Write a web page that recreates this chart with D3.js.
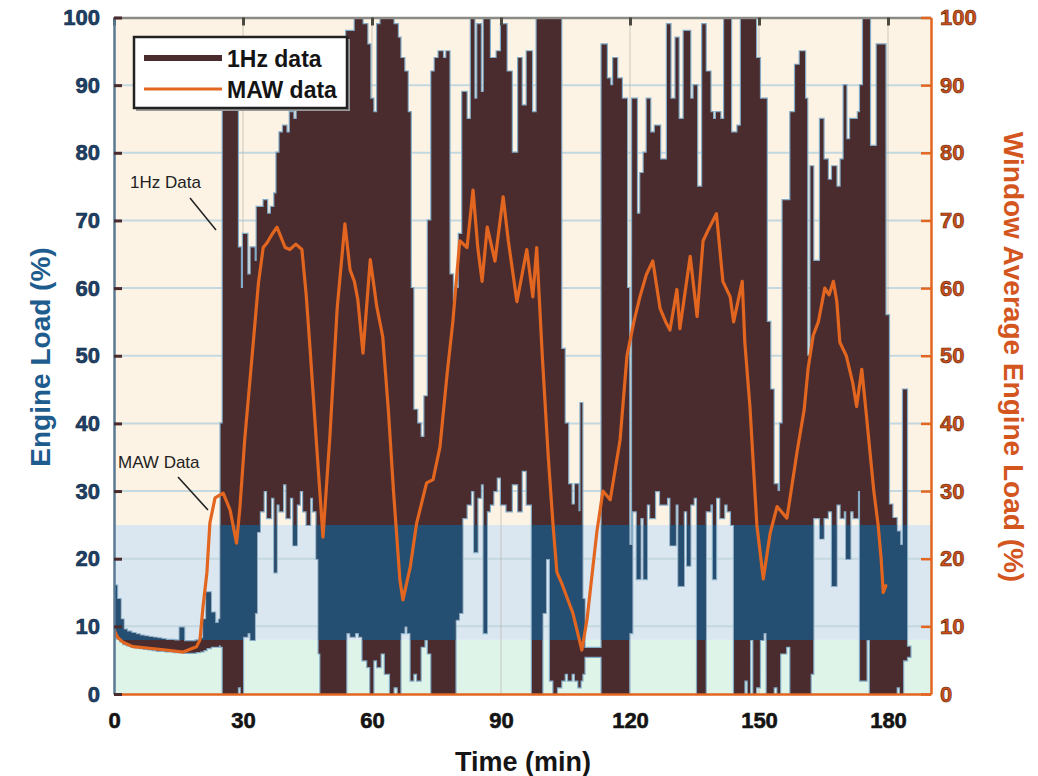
<!DOCTYPE html>
<html>
<head>
<meta charset="utf-8">
<script src="https://cdn.jsdelivr.net/npm/d3@7"></script>
<style>
  html, body { margin: 0; padding: 0; background: #ffffff; }
  svg { display: block; }
  .tick text { font-family: "Liberation Sans", Arial, sans-serif; font-weight: bold; }
</style>
</head>
<body>
<svg id="chart" width="1038" height="776"></svg>
<script>
// ---------------- data ----------------
const xTicks = [0, 30, 60, 90, 120, 150, 180];
const yTicks = [0, 10, 20, 30, 40, 50, 60, 70, 80, 90, 100];

// load bands (%)
const bandEdges = [0, 8, 25, 100];
const bandColors = ["#dff4e8", "#dbe7f0", "#fcf3e4"];

// 1Hz data, read as blocks: start time (min), upper and lower envelope (%)
const hzTime = [0,0.7,1.5,2.2,3,4,5,6,7,8, 9,10,11,12,13,14,15.3,16.3,17.5,19,
  20,20.8,21.5,22.5,23.5,24.4,24.8,25.3,26.5,27.5, 28.8,29.5,30,31,31.8,32.7,33.2,33.9,34.8,35.6,
  36.5,37.3,37.8,38.5,39.3,40.1,40.9,41.7,42.5,43.2, 44,44.8,45.6,46.3,47.1,47.6,48,49,50,51,
  52,53.3,54,55,56,57,57.8,58.9,59.6,60.3, 61.2,62,63,64.2,65,66,66.6,67.5,68.3,69,
  69.6,70.5,71.3,72.2,73,73.8,74.6,75.5,76.5,77.3, 78,78.8,79.4,80.2,81,82,83,83.8,84.5,85.3,
  86,86.7,87.4,88.2,89,90,91.3,92.5,94,94.8, 96,97.2,98.3,99.6,100.4,101.4,102.2,103,104,104.8,
  105.6,106.4,107.2,108,108.5,108.9,109.4,113.4,114.6,115.4, 116.1,117,118.1,119.3,119.8,120.5,121.6,122.4,123.2,123.9,
  124.7,125.8,127,128.6,129.4,130.6,131.3,132.5,133.3,134, 134.8,135.6,136.8,137.6,138.7,139.3,140,141,141.9,142.7,
  143.5,144.2,145,145.8,146.6,147.4,147.9,148.7,149.3,150.2, 151,151.8,152.6,153.4,154.3,154.9,155.5,156.3,157.3,158.4,
  159.5,160.7,161.2,162,162.6,164.2,165,166,167,168, 169,169.7,170.3,171.2,172,173,173.5,174.2,175,175.8,
  176.6,177.4,178.5,179.4,180.2,181,182,182.8,183.5,184.4, 185.2];
const hzHigh = [16,14,11,9.5,9.2,9,8.8,8.6,8.5,8.4, 8.3,8.2,8.1,8,8,7.9,9.8,7.8,7.8,7.9,
  8.2,11,15,12,10.5,11,40,95,96,95, 66,60,68,62,66,64,72,72,73,71,
  72,74,80,83,84,83,86,85,87,88, 87,88,87,89,88,90,89,90,89,91,
  88,97,98,98,100,100,99,96,88,86, 99,100,100,100,99,97,94,92,86,60,
  42,40,38,44,70,92,94,95,94,95, 62,58,60,68,89,85,100,88,99,89,
  100,100,94,94,95,99,92,80,94,87, 95,86,100,100,100,100,100,100,51,40,
  31,28,31,27,43,14,6.8,96,91,90, 94,91,88,60,22,88,71,77,80,88,
  83,84,79,99,88,97,85,98,98,88, 90,75,99,92,86,85,86,85,100,100,
  83,83,84,100,100,100,100,100,94,88, 88,55,45,31,30,40,73,73,86,93,
  95,88,50,78,64,85,79,76,78,75, 79,90,82,85,85,86,90,100,100,81,
  81,96,96,56,28,26,24,22,45,7, 7];
const hzLow = [8.5,8.2,7.8,7.4,7.2,7,6.9,6.8,6.7,6.6, 6.5,6.4,6.4,6.3,6.3,6.2,6.2,6.1,6.1,6.2,
  6.3,6.5,6.8,7,7,7.2,7,0,0,0, 1,0,8.5,9,8,12,24,27,30,26,
  29,18,28,27,31,26,29,22,28,30, 27,25,29,27,20,6,0,0,0,0,
  0,0,9,8.5,9,8.5,5,4,0,5, 4,6,3,0,1,0,9,10,9,2,
  3,2,7,8,6,0,0,0,0,0, 0,0,11,12,26,28,30,21,29,31,
  9,27,28,30,32,28,27,31,27,33, 28,0,0,12,20,2,0,1,2,3,
  2,3,2,1,2,3,5.5,0,0,0, 0,0,0,0,9,27,17,26,17,28,
  26,30,28,29,22,28,16,27,19,28, 29,0,0,27,28,17,29,26,28,27,
  25,0,0,0,2,0,8,0,1,8, 9,0,0,1,0,6,6,7,0,0,
  0,0,0,3,26,23,26,27,16,28, 26,27,20,27,26,30,2,2,8,0,
  0,0,0,0,0,0,1,0,5,5.5, 5.5];

// MAW (moving average window) data
const mawTime = [0,0.8,2.2,4.4,7.7,12.1,16.1,19.2,20,20.7, 21.6,22.3,23.5,25.4,27,28.5,29.3,30.4,32.4,33.6,
  34.7,35.6,36.8,37.9,39.8,40.9,42.3,43.7,44.7,45.6, 47.2,48.6,50.2,51.9,53.7,54.9,55.9,56.7,57.9,59.6,
  60.3,61.1,62.5,63.8,65,66.5,67.2,68.9,70.4,72.7, 74.2,75.8,77.5,78.8,80.4,82.1,83.5,84.6,85.6,86.8,
  88.6,90.5,91.7,93.7,94.9,96,97.4,98.3,99.6,101, 102.1,103,104.1,105.5,106.7,108.8,110,112.3,113.7,115.4,
  117.7,119.3,120.9,122.3,123.8,125.3,127,128.3,129.3,130.9, 131.6,134,135.6,137,138.2,140.1,141.6,143.3,144.1,146.1,
  146.7,147.9,149.5,151,152.6,154.2,156.5,158.9,160.5,161.4, 162.6,163.8,165.3,166.3,167.3,168.1,168.8,170.3,171.8,172.7,
  173.9,174.7,175.7,176.7,177.7,178.4,178.9,179.5];
const mawLoad = [9.5,8.4,7.6,7.0,6.8,6.5,6.2,7.0,8.0,12.9, 17.9,25.3,29,29.7,27.2,22.3,27.7,37.6,52,60.8,
  66,66.7,68,69,66,65.7,66.5,65.7,59,51, 36,23.2,38,57,69.5,62.7,61,58.3,50.4,64.2,
  61,57.3,52.8,42,30,16.8,13.9,18.8,25.3,31.2, 31.7,36.5,47.5,55,67,66,74.5,66,61,69,
  64,73.5,67,58,62,65.7,58.7,66,50,35, 25,18,16.4,14,12,6.5,11,24,30,28.7,
  37.6,50,55,58.7,62,64,57,55,53.8,59.8, 54,64.7,55.8,67,68.6,71,61,58.7,55,61,
  52,42.4,25,17,23.8,27.7,26,36,42,48, 53,55,60,59,61,58,52,50,46,42.5,
  48,43,36.5,30,25,20,15,16];

const legendLabels = ["1Hz data", "MAW data"];

// ---------------- layout ----------------
const L = 114, R = 931, T = 17.5, B = 694;
const svg = d3.select("#chart");
const x = d3.scaleLinear().domain([0, 190]).range([L, R]);
const y = d3.scaleLinear().domain([0, 100]).range([B, T]);

const brown = "#4a2c2e", bandDark = "#244e72", edge = "#84abc6", orange = "#e2661f";

// background bands
svg.append("g").selectAll("rect").data(bandColors).join("rect")
  .attr("x", L).attr("width", R - L)
  .attr("y", (d, i) => y(bandEdges[i + 1]))
  .attr("height", (d, i) => y(bandEdges[i]) - y(bandEdges[i + 1]))
  .attr("fill", d => d);

// horizontal grid
svg.append("g").selectAll("line").data(yTicks.filter(v => v > 0 && v < 100)).join("line")
  .attr("x1", L).attr("x2", R).attr("y1", d => y(d)).attr("y2", d => y(d))
  .attr("stroke", "#c3d8df").attr("stroke-width", 2);
// vertical grid
svg.append("g").selectAll("line").data(xTicks.filter(v => v > 0)).join("line")
  .attr("x1", d => x(d)).attr("x2", d => x(d)).attr("y1", T).attr("y2", B)
  .attr("stroke", "#b8b4a8").attr("stroke-opacity", 0.45).attr("stroke-width", 1.5);

// 1Hz data
const hz = hzTime.map((t, i) => ({ t, hi: hzHigh[i], lo: hzLow[i] }));
const area = d3.area().x(d => x(d.t)).y0(d => y(d.lo)).y1(d => y(d.hi)).curve(d3.curveStepAfter);
const defs = svg.append("defs");
defs.append("clipPath").attr("id", "band").append("rect")
  .attr("x", L).attr("width", R - L).attr("y", y(25)).attr("height", y(8) - y(25));
defs.append("clipPath").attr("id", "plot").append("rect")
  .attr("x", L).attr("width", R - L).attr("y", T).attr("height", B - T);

const gData = svg.append("g").attr("clip-path", "url(#plot)");
gData.append("path").datum(hz).attr("d", area).attr("fill", "none")
  .attr("stroke", edge).attr("stroke-width", 2.4).attr("stroke-linejoin", "miter");
gData.append("path").datum(hz).attr("d", area).attr("fill", brown);
gData.append("path").datum(hz).attr("d", area).attr("fill", bandDark).attr("clip-path", "url(#band)");

// MAW data
const maw = mawTime.map((t, i) => ({ t, v: mawLoad[i] }));
gData.append("path").datum(maw)
  .attr("d", d3.line().x(d => x(d.t)).y(d => y(d.v)))
  .attr("fill", "none").attr("stroke", orange).attr("stroke-width", 3.2)
  .attr("stroke-linejoin", "round").attr("stroke-linecap", "round");

// ---------------- axes ----------------
const fontTicks = "22px";
// top ticks
const gTop = svg.append("g").attr("transform", `translate(0,${T})`)
  .call(d3.axisTop(x).tickValues(xTicks).tickSizeInner(-8).tickSizeOuter(0).tickFormat(""));
gTop.select(".domain").attr("stroke", "#8a8a86").attr("stroke-width", 2.5);
gTop.selectAll(".tick line").attr("stroke", "#4a4a40").attr("stroke-width", 3);

// bottom axis
const gBot = svg.append("g").attr("transform", `translate(0,${B})`)
  .call(d3.axisBottom(x).tickValues(xTicks).tickSize(0).tickPadding(18));
gBot.select(".domain").attr("stroke", orange).attr("stroke-width", 2.5);
gBot.selectAll(".tick text").attr("font-size", fontTicks).attr("fill", "#141414")
  .attr("stroke", "#141414").attr("stroke-width", 0.6);

// left axis
const gLeft = svg.append("g").attr("transform", `translate(${L},0)`)
  .call(d3.axisLeft(y).tickValues(yTicks).tickSizeInner(-8).tickSizeOuter(0).tickPadding(14));
gLeft.select(".domain").attr("stroke", "#5a7894").attr("stroke-width", 2.5);
gLeft.selectAll(".tick line").attr("stroke", brown).attr("stroke-width", 3);
gLeft.selectAll(".tick text").attr("font-size", fontTicks).attr("fill", "#1d4168")
  .attr("stroke", "#10263d").attr("stroke-width", 0.6);

// right axis
const gRight = svg.append("g").attr("transform", `translate(${R},0)`)
  .call(d3.axisRight(y).tickValues(yTicks).tickSizeInner(-10).tickSizeOuter(0).tickPadding(9));
gRight.select(".domain").attr("stroke", orange).attr("stroke-width", 2.5);
gRight.selectAll(".tick line").attr("stroke", orange).attr("stroke-width", 2.5);
gRight.selectAll(".tick text").attr("font-size", fontTicks).attr("fill", "#c9501b")
  .attr("stroke", "#5a2208").attr("stroke-width", 0.6);

// axis titles
const titleFont = "'Liberation Sans', Arial, sans-serif";
svg.append("text").attr("x", 523).attr("y", 771).attr("text-anchor", "middle")
  .attr("font-family", titleFont).attr("font-weight", "bold").attr("font-size", 27)
  .attr("fill", "#151515").text("Time (min)");
svg.append("text").attr("transform", "translate(50,357) rotate(-90)").attr("text-anchor", "middle")
  .attr("font-family", titleFont).attr("font-weight", "bold").attr("font-size", 28)
  .attr("fill", "#1f5c8e").text("Engine Load (%)");
svg.append("text").attr("transform", "translate(1004,357) rotate(90)").attr("text-anchor", "middle")
  .attr("font-family", titleFont).attr("font-weight", "bold").attr("font-size", 28)
  .attr("fill", "#d4561f").text("Window Average Engine Load (%)");

// ---------------- legend ----------------
const lg = svg.append("g");
lg.append("rect").attr("x", 136).attr("y", 39).attr("width", 214).attr("height", 72).attr("fill", "#9a9a9a");
lg.append("rect").attr("x", 134).attr("y", 37).attr("width", 213).attr("height", 71)
  .attr("fill", "#ffffff").attr("stroke", "#222222").attr("stroke-width", 2.5);
const lgStyles = [{ c: brown, w: 6 }, { c: orange, w: 3.2 }];
lgStyles.forEach((s, i) => {
  const yy = 58 + i * 31;
  lg.append("line").attr("x1", 144).attr("x2", 222).attr("y1", yy).attr("y2", yy)
    .attr("stroke", s.c).attr("stroke-width", s.w);
  lg.append("text").attr("x", 227).attr("y", yy + 8.5)
    .attr("font-family", titleFont).attr("font-weight", "bold").attr("font-size", 23)
    .attr("fill", "#141414").text(legendLabels[i]);
});

// ---------------- annotations ----------------
const annFont = "'Liberation Sans', Arial, sans-serif";
svg.append("text").attr("x", 130).attr("y", 188).attr("font-family", annFont)
  .attr("font-size", 17).attr("fill", "#222").text("1Hz Data");
svg.append("line").attr("x1", 190).attr("y1", 198).attr("x2", 216).attr("y2", 230)
  .attr("stroke", "#222").attr("stroke-width", 1.6);
svg.append("text").attr("x", 118).attr("y", 468).attr("font-family", annFont)
  .attr("font-size", 17).attr("fill", "#222").text("MAW Data");
svg.append("line").attr("x1", 178).attr("y1", 477).attr("x2", 208).attr("y2", 510)
  .attr("stroke", "#222").attr("stroke-width", 1.6);
</script>
</body>
</html>
